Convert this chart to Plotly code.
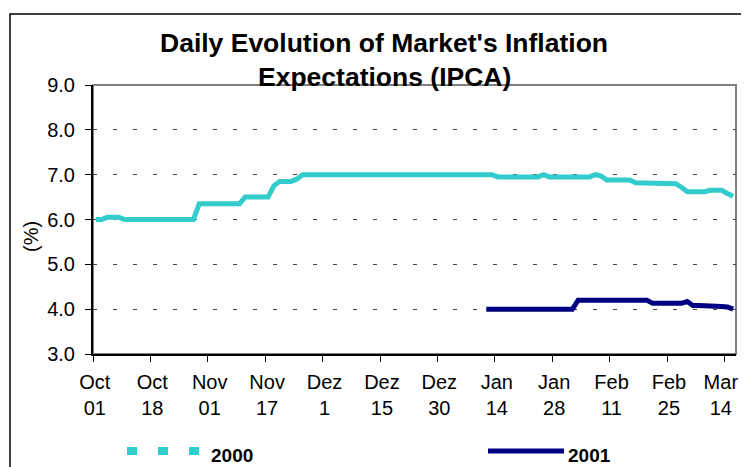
import plotly.graph_objects as go

# ---------------- data ----------------
series_names = ["2000", "2001"]
tick_labels = ["Oct<br>01", "Oct<br>18", "Nov<br>01", "Nov<br>17", "Dez<br>1", "Dez<br>15",
               "Dez<br>30", "Jan<br>14", "Jan<br>28", "Feb<br>11", "Feb<br>25", "Mar<br>14"]

values_2000 = [
    6.0, 6.0, 6.05, 6.05, 6.05, 6.0, 6.0, 6.0, 6.0, 6.0,
    6.0, 6.0, 6.0, 6.0, 6.0, 6.0, 6.0, 6.0, 6.35, 6.35,
    6.35, 6.35, 6.35, 6.35, 6.35, 6.35, 6.5, 6.5, 6.5, 6.5,
    6.5, 6.75, 6.85, 6.85, 6.85, 6.9, 7.0, 7.0, 7.0, 7.0,
    7.0, 7.0, 7.0, 7.0, 7.0, 7.0, 7.0, 7.0, 7.0, 7.0,
    7.0, 7.0, 7.0, 7.0, 7.0, 7.0, 7.0, 7.0, 7.0, 7.0,
    7.0, 7.0, 7.0, 7.0, 7.0, 7.0, 7.0, 7.0, 7.0, 7.0,
    6.95, 6.95, 6.95, 6.95, 6.95, 6.95, 6.95, 6.95, 7.0, 6.95,
    6.95, 6.95, 6.95, 6.95, 6.95, 6.95, 6.95, 7.0, 6.97, 6.88,
    6.88, 6.88, 6.88, 6.88, 6.82, 6.82, 6.82, 6.8, 6.8, 6.8,
    6.8, 6.8, 6.72, 6.62, 6.62, 6.62, 6.62, 6.65, 6.65, 6.65,
    6.58, 6.52,
]

values_2001 = [
    4.0, 4.0, 4.0, 4.0, 4.0, 4.0, 4.0, 4.0, 4.0, 4.0,
    4.0, 4.0, 4.0, 4.0, 4.0, 4.0, 4.2, 4.2, 4.2, 4.2,
    4.2, 4.2, 4.2, 4.2, 4.2, 4.2, 4.2, 4.2, 4.2, 4.13,
    4.13, 4.13, 4.13, 4.13, 4.13, 4.17, 4.08, 4.08, 4.08, 4.06,
    4.06, 4.06, 4.05, 4.0,
]

y_ticks = [3.0, 4.0, 5.0, 6.0, 7.0, 8.0, 9.0]

# ---------------- derived ----------------
days = list(range(len(values_2000)))
x_2001 = days[len(days) - len(values_2001):]
label_every = 10
tick_vals = days[::label_every]

# like the source chart, keep the last category label inside the chart edge
NBSP = "\u00a0"
tick_text = list(tick_labels)
tick_text[-1] = "<br>".join(part + NBSP * 2 for part in tick_text[-1].split("<br>"))

CYAN = "#33CCCC"
NAVY = "#000080"
FONT = "Liberation Sans, Arial, sans-serif"

# The page has an 8px body margin; work in page pixels and convert.
OFF = 8
W, H = 749 - OFF, 467 - OFF
PL, PR, PT, PB = 93, 736, 85, 354          # plot area in page pixels
L, R, T, B = PL - OFF, W - (PR - OFF), PT - OFF, H - (PB - OFF)
PW, PH = PR - PL, PB - PT


def px(x):
    return (x - PL) / PW


def py(y):
    return (PB - y) / PH


fig = go.Figure()
fig.add_trace(go.Scatter(x=days, y=values_2000, mode="lines", name=series_names[0],
                         line=dict(color=CYAN, width=5), showlegend=False))
fig.add_trace(go.Scatter(x=x_2001, y=values_2001, mode="lines", name=series_names[1],
                         line=dict(color=NAVY, width=5), showlegend=False))

fig.update_layout(
    width=W, height=H,
    margin=dict(l=L, r=R, t=T, b=B, pad=0, autoexpand=False),
    paper_bgcolor="white", plot_bgcolor="white",
    font=dict(family=FONT, size=20, color="black"),
    showlegend=False,
)

fig.update_xaxes(
    range=[-0.5, len(days) - 0.5],
    tickmode="array", tickvals=tick_vals, ticktext=tick_text,
    ticks="", showgrid=False, zeroline=False,
    showline=True, linecolor="black", linewidth=2,
    tickfont=dict(size=20), ticklabeloverflow="allow",
    ticklabelstandoff=9, ticklabelshift=-1, automargin=False,
    minor=dict(tickmode="linear", tick0=-0.5, dtick=label_every, ticks="outside",
               ticklen=6, tickcolor="black", tickwidth=1, showgrid=False),
)
fig.update_yaxes(
    range=[y_ticks[0], y_ticks[-1]],
    tickmode="array", tickvals=y_ticks, ticktext=[f"{v:.1f}" for v in y_ticks],
    ticks="outside", ticklen=6, tickcolor="black", tickwidth=1,
    showline=True, linecolor="black", linewidth=2,
    showgrid=True, gridcolor="#444444", gridwidth=1, griddash="4px,16px",
    zeroline=False, tickfont=dict(size=20), ticklabelstandoff=6, automargin=False,
)

shapes = [
    # plot area border (grey top/right)
    dict(type="rect", xref="paper", yref="paper", x0=0, x1=1, y0=0, y1=1,
         line=dict(color="#808080", width=2), layer="below"),
    # outer chart border
    dict(type="rect", xref="paper", yref="paper", x0=px(10), x1=px(770), y0=py(490), y1=py(14),
         line=dict(color="black", width=1.5)),
    # legend samples
    dict(type="line", xref="paper", yref="paper", x0=px(127), x1=px(199), y0=py(451), y1=py(451),
         line=dict(color=CYAN, width=8, dash="10px,21px")),
    dict(type="line", xref="paper", yref="paper", x0=px(488), x1=px(564), y0=py(451), y1=py(451),
         line=dict(color=NAVY, width=5)),
]

annotations = [
    dict(text="<b>Daily Evolution of Market's Inflation</b>", x=px(384), y=py(43),
         xref="paper", yref="paper", showarrow=False, xanchor="center", yanchor="middle",
         font=dict(size=26.5)),
    dict(text="<b>Expectations (IPCA)</b>", x=px(384), y=py(77),
         xref="paper", yref="paper", showarrow=False, xanchor="center", yanchor="middle",
         font=dict(size=26.5)),
    dict(text="(%)", x=px(31), y=py(237), xref="paper", yref="paper", showarrow=False,
         textangle=-90, xanchor="center", yanchor="middle", font=dict(size=20)),
    dict(text="<b>" + series_names[0] + "</b>", x=px(209), y=py(455), xref="paper", yref="paper",
         showarrow=False, xanchor="left", yanchor="middle", font=dict(size=19)),
    dict(text="<b>" + series_names[1] + "</b>", x=px(566), y=py(455), xref="paper", yref="paper",
         showarrow=False, xanchor="left", yanchor="middle", font=dict(size=19)),
]

fig.update_layout(shapes=shapes, annotations=annotations)
fig.write_html("out.html")
